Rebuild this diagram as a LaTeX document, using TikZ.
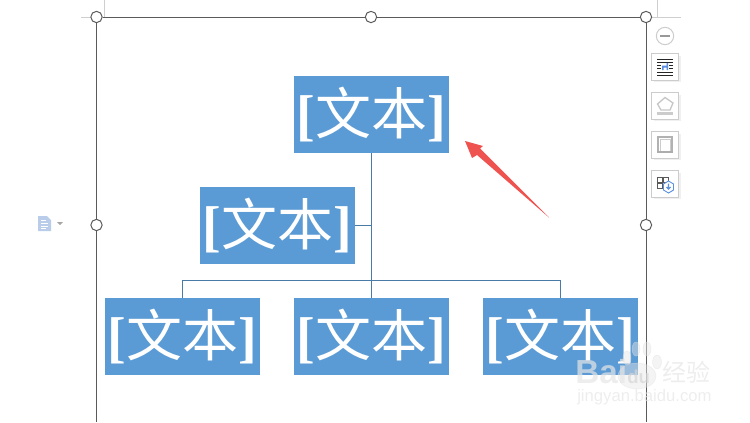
\documentclass[tikz,border=0pt]{standalone}
\usepackage{fontspec}
\setmainfont{Liberation Sans}
\newfontfamily\cjk{Noto Sans CJK SC}
\newfontfamily\brk{Liberation Serif Bold}
\newcommand{\wen}{\raisebox{-1.2pt}{{\brk[}{\cjk 文本}{\brk]}}}
\usetikzlibrary{calc}
\definecolor{boxblue}{HTML}{5B9BD5}
\definecolor{linkblue}{HTML}{4A7BA6}
\definecolor{frameline}{HTML}{5A5A5A}
\definecolor{marginline}{HTML}{CFCFCF}
\definecolor{arrowred}{HTML}{EF5350}
\definecolor{iconblue}{HTML}{5B8FE0}
\definecolor{pageicon}{HTML}{B9CDEA}
\definecolor{wmfill}{HTML}{E6E6E6}
\tikzset{
  x=0.75pt,y=-0.75pt,
  orgbox/.style={fill=boxblue,text=white,minimum width=116.25pt,minimum height=57.75pt,inner sep=0pt,font=\fontsize{42}{42}\selectfont},
  linkline/.style={draw=linkblue,line width=0.75pt},
  frame/.style={draw=frameline,line width=0.75pt},
  margin/.style={draw=marginline,line width=0.75pt},
  handle/.style={circle,draw=frameline,fill=white,line width=0.75pt,minimum size=8.5pt,inner sep=0pt},
  wm/.style={text=wmfill,inner sep=0pt,anchor=west,opacity=0.7}
}
\begin{document}
\begin{tikzpicture}
\useasboundingbox (0,0) rectangle (750,422);
% margins
\draw[margin] (81,17) -- (96,17) (104,0) -- (104,17) (646,17) -- (681,17) (657,0) -- (657,17);
% boxes
\node[orgbox] (top) at (371.5,114.5) {\wen};
\node[orgbox] (asst) at (277.5,225.5) {\wen};
\node[orgbox] (c1) at (182.5,336.5) {\wen};
\node[orgbox] (c2) at (371.5,336.5) {\wen};
\node[orgbox] (c3) at (560.5,336.5) {\wen};
% connectors
\coordinate (bus) at (371.5,280.5);
\draw[linkline] (top.south) -- (c2.north);
\draw[linkline] (asst.east) -- (asst.east -| top.south);
\draw[linkline] (c1.north) -- (c1.north |- bus) -- (c3.north |- bus) -- (c3.north);
% frame
\node[handle] (hTL) at (96.5,17) {};
\node[handle] (hT) at (371,17) {};
\node[handle] (hTR) at (646,17) {};
\node[handle] (hL) at (96.5,225) {};
\node[handle] (hR) at (646,225) {};
\coordinate (bl) at (96.5,422);
\coordinate (br) at (646,422);
\draw[frame] (hTL) -- (hT);
\draw[frame] (hT) -- (hTR);
\draw[frame] (hTL) -- (hL);
\draw[frame] (hL) -- (bl);
\draw[frame] (hTR) -- (hR);
\draw[frame] (hR) -- (br);
% red arrow
\fill[arrowred] (465,141) -- (483,146) -- (480,148.5) -- (549,217.5) -- (477,155) -- (472,158) -- cycle;
% toolbar
\node[circle,draw=black!20,fill=white,line width=0.75pt,minimum size=13pt,inner sep=0pt] (minus) at (665,36) {};
\draw[black!40,line width=1.2pt] (660,36) -- (670,36);
\foreach \n/\yy in {t1/67,t2/106,t3/145,t4/184}{
  \fill[black!6] (654,\yy-11) rectangle (680.5,\yy+15);
  \node[draw=black!20,fill=white,line width=0.75pt,minimum size=20pt,inner sep=0pt] (\n) at (665,\yy) {};
}
% icon 1
\foreach \yy in {59,62,72,75}{\draw[black!85,line width=0.6pt] (657,\yy) -- (673,\yy);}
\foreach \yy in {65,68}{\draw[black!85,line width=0.6pt] (657,\yy) -- (661,\yy) (669,\yy) -- (673,\yy);}
\fill[iconblue] (662,65.5) rectangle (668,67.5) (662,65.5) rectangle (663.5,70) (666.5,63) rectangle (668,70);
% icon 2
\draw[black!22,line width=1pt] (657.5,104) -- (665,97.5) -- (673,103) -- (670,110) -- (661,110) -- cycle;
\fill[black!20] (657,111.5) rectangle (673,114.5);
% icon 3
\draw[black!30,line width=0.8pt] (658,151) -- (658,137) -- (672,137) -- (672,151);
\draw[black!20,line width=0.6pt] (660,151) -- (660,139) -- (670,139) -- (670,151);
\fill[black!32] (657,151) rectangle (673,153);
% icon 4
\draw[black!65,line width=0.6pt] (657,177) rectangle (662,182) (663.5,177) rectangle (668.5,182) (657,183.5) rectangle (662,188.5);
\draw[iconblue,fill=white,line width=0.7pt] (668.5,181) -- (673.5,184) -- (673.5,190) -- (668.5,193) -- (663.5,190) -- (663.5,184) -- cycle;
\draw[iconblue,line width=0.8pt] (668.5,183.5) -- (668.5,189) (666.5,187) -- (668.5,189) -- (670.5,187);
% left icon
\fill[pageicon] (38,216) -- (47,216) -- (51,220) -- (51,231) -- (38,231) -- cycle;
\draw[white,line width=0.6pt] (41,220) -- (46,220) (41,223) -- (48,223) (41,226) -- (48,226) (41,228.5) -- (46,228.5);
\fill[black!35] (57,222) -- (63,222) -- (60,225) -- cycle;
% watermark
\begin{scope}[opacity=0.45,draw=black!12,fill=wmfill,line width=0.4pt]
\filldraw (627,358) ellipse (4 and 7) (636,349) ellipse (4 and 7) (647,349) ellipse (4 and 7) (657,362) ellipse (4.5 and 7) (637,376) ellipse (19 and 13);
\end{scope}
\node[wm,font=\bfseries\fontsize{25}{25}\selectfont] (wmA) at (575,372) {Bai};
\node[wm,font=\bfseries\fontsize{14}{14}\selectfont,text=black!16] (wmB) at (627,377) {du};
\node[wm,font=\cjk\fontsize{18}{18}\selectfont] (wmC) at (662,372) {经验};
\node[wm,font=\fontsize{12.5}{12.5}\selectfont] (wmD) at (577,397) {jingyan.baidu.com};
\end{tikzpicture}
\end{document}
